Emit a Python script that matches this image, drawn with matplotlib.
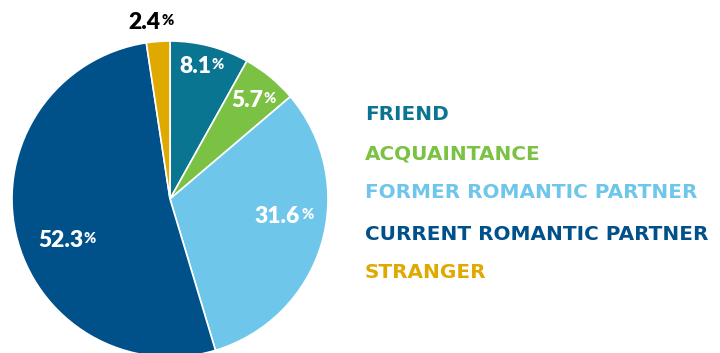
import matplotlib.pyplot as plt

# Relationship of the perpetrator to the victim (share of cases, %)
categories = ['FRIEND', 'ACQUAINTANCE', 'FORMER ROMANTIC PARTNER',
              'CURRENT ROMANTIC PARTNER', 'STRANGER']
shares = [8.1, 5.7, 31.6, 52.3, 2.4]
colors = ['#0a7590', '#7bc143', '#6ec6ea', '#00508a', '#dfa900']

W, H = 720, 353
fig = plt.figure(figsize=(W / 100, H / 100), dpi=100)
ax = fig.add_axes([0, 0, 1, 1])

cx, cy, r = 170, H - 199, 158
ax.pie(shares, colors=colors, startangle=90, counterclock=False,
       center=(cx, cy), radius=r, frame=True,
       wedgeprops=dict(linewidth=1.2, edgecolor='white'))
ax.set_xlim(0, W)
ax.set_ylim(0, H)
ax.set_aspect('equal')
ax.axis('off')

# where the "%" sign starts and the text baseline, in pixels from top-left
label_spots = [(211, 73), (263, 107), (300, 223), (83, 247), (160, 29)]
label_colors = ['white', 'white', 'white', 'white', 'black']
for v, (x, y), c in zip(shares, label_spots, label_colors):
    ax.text(x, H - y, f'{v:.1f}', ha='right', va='baseline', color=c,
            fontsize=16.5, fontweight='heavy', family='Lato')
    ax.text(x + 1, H - y + 4, '%', ha='left', va='baseline', color=c,
            fontsize=10.5, fontweight='heavy', family='Lato')

legend_y = [114, 154, 193, 234, 273]
for name, c, y in zip(categories, colors, legend_y):
    ax.text(365, H - y, name, ha='left', va='center', color=c,
            fontsize=14.4, fontweight='bold', family='DejaVu Sans')

fig.savefig('out.png', dpi=100)
